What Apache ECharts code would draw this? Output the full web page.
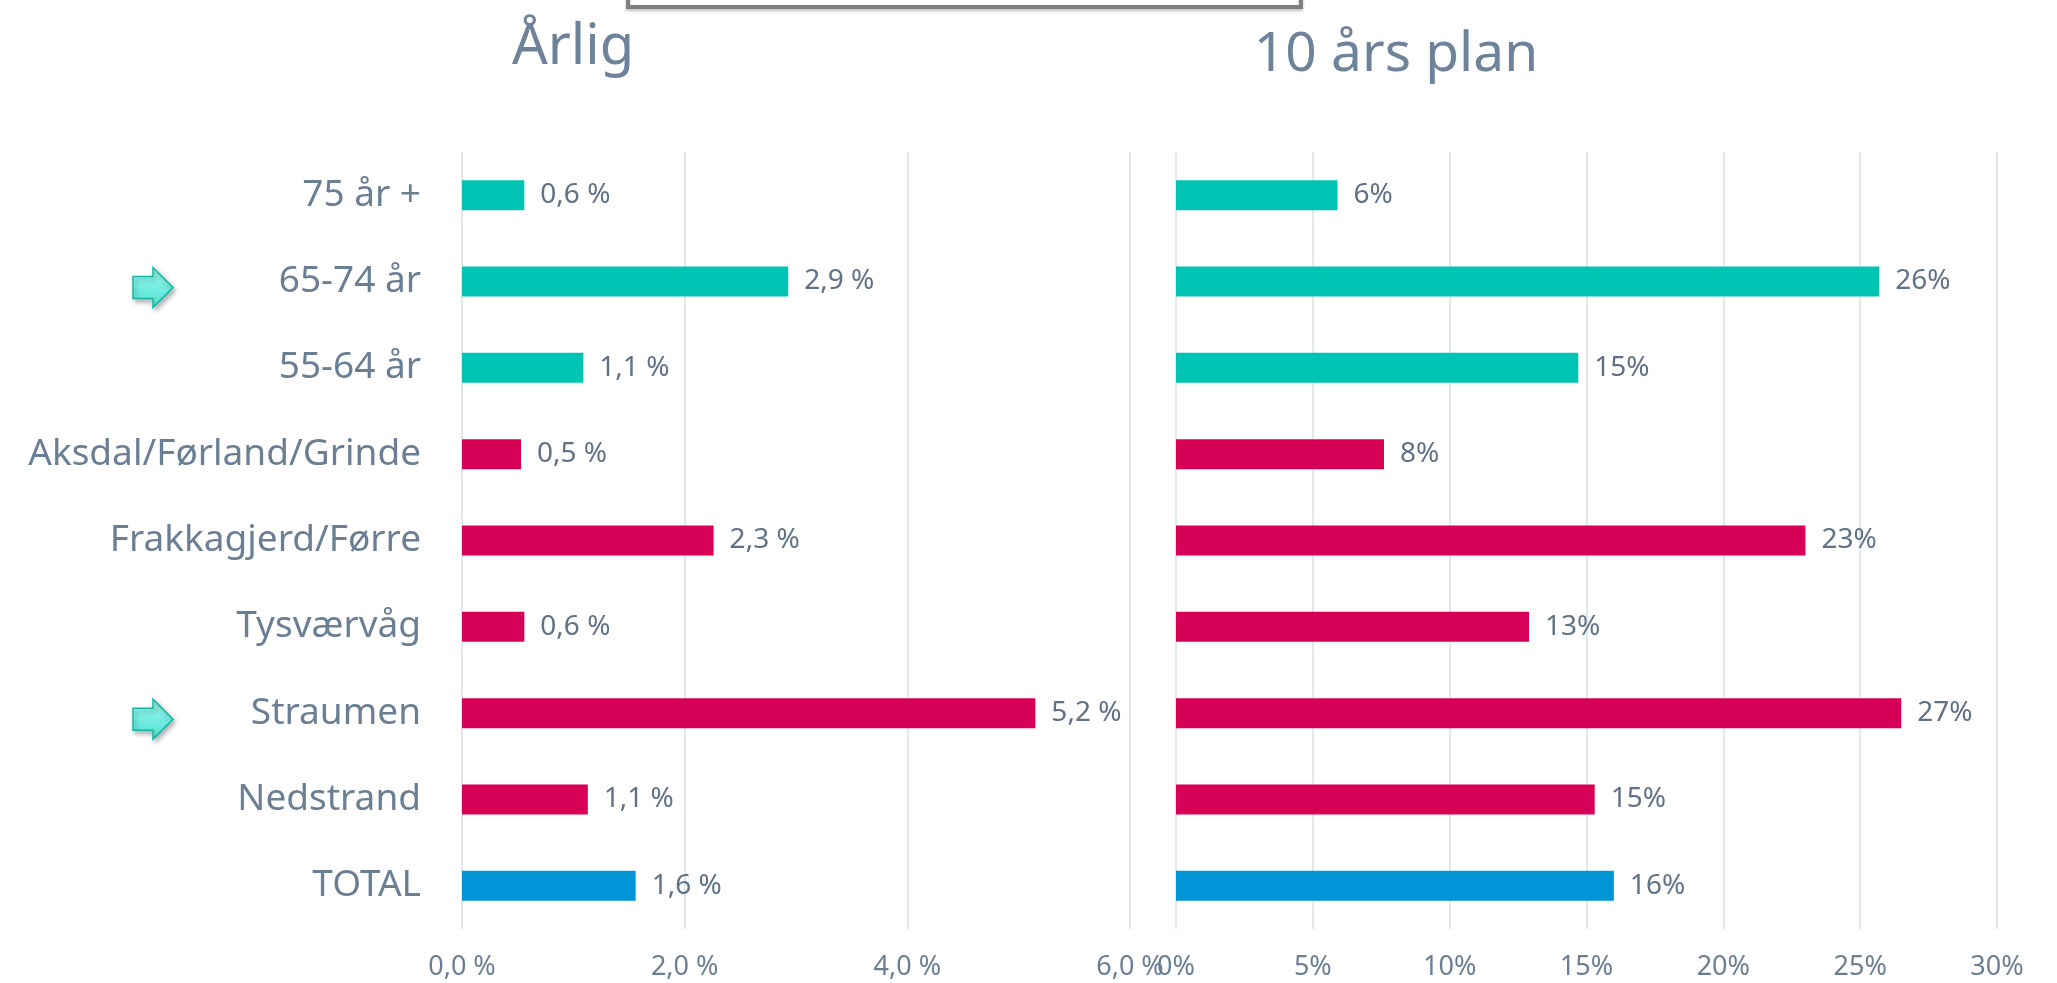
<!DOCTYPE html>
<html>
<head>
<meta charset="utf-8">
<script src="https://cdn.jsdelivr.net/npm/echarts/dist/echarts.min.js"></script>
<style>
    html, body { margin: 0; padding: 0; background: #fff; }
    #main { width: 2057px; height: 983px; }
</style>
</head>
<body>
<div id="main"></div>
<script>
// kategorier, fra topp til bunn
var categories = ['75 år +', '65-74 år', '55-64 år', 'Aksdal/Førland/Grinde', 'Frakkagjerd/Førre', 'Tysværvåg', 'Straumen', 'Nedstrand', 'TOTAL'];
var groups = ['alder', 'alder', 'alder', 'sted', 'sted', 'sted', 'sted', 'sted', 'total'];
// årlig vekst (%)
var arligValues = [0.56, 2.93, 1.09, 0.53, 2.26, 0.56, 5.15, 1.13, 1.56];
// 10 års plan (%)
var planValues = [5.9, 25.7, 14.7, 7.6, 23.0, 12.9, 26.5, 15.3, 16.0];
// akseverdier
var arligTicks = [0, 2, 4, 6];
var planTicks = [0, 5, 10, 15, 20, 25, 30];
// kategorier med pil
var marked = ['65-74 år', 'Straumen'];

var colorMap = { alder: '#00c4b3', sted: '#d70057', total: '#0095d5' };
var textColor = '#6b7f94';
var font = '"Noto Sans", "Open Sans", sans-serif';

var chart = echarts.init(document.getElementById('main'));

function barColor(p) {
    return colorMap[groups[p.dataIndex]];
}

function valueAxis(ticks, idx, fmt) {
    return {
        type: 'value',
        gridIndex: idx,
        min: ticks[0],
        max: ticks[ticks.length - 1],
        interval: ticks[1] - ticks[0],
        axisLine: { show: false },
        axisTick: { show: false },
        splitLine: { lineStyle: { color: '#d9dfe6', width: 1.5 } },
        axisLabel: { color: textColor, fontSize: 27, fontFamily: font, margin: 25, formatter: fmt }
    };
}

var option = {
    animation: false,
    grid: [
        { left: 462, right: 927, top: 152, bottom: 54 },
        { left: 1176, right: 60, top: 152, bottom: 54 }
    ],
    xAxis: [
        valueAxis(arligTicks, 0, function (v) { return v.toFixed(1).replace('.', ',') + ' %'; }),
        valueAxis(planTicks, 1, function (v) { return v + '%'; })
    ],
    yAxis: [
        {
            type: 'category', gridIndex: 0, data: categories, inverse: true,
            axisLine: { show: false }, axisTick: { show: false },
            axisLabel: { color: textColor, fontSize: 37, fontFamily: font, margin: 41 }
        },
        {
            type: 'category', gridIndex: 1, data: categories, inverse: true,
            axisLine: { show: false }, axisTick: { show: false },
            axisLabel: { show: false }
        }
    ],
    series: [
        {
            name: 'Årlig', type: 'bar', xAxisIndex: 0, yAxisIndex: 0,
            data: arligValues, barWidth: 30,
            itemStyle: { color: barColor },
            label: {
                show: true, position: 'right', distance: 16,
                color: '#5f7287', fontSize: 28, fontFamily: font,
                formatter: function (p) { return p.value.toFixed(1).replace('.', ',') + ' %'; }
            }
        },
        {
            name: '10 års plan', type: 'bar', xAxisIndex: 1, yAxisIndex: 1,
            data: planValues, barWidth: 30,
            itemStyle: { color: barColor },
            label: {
                show: true, position: 'right', distance: 16,
                color: '#5f7287', fontSize: 28, fontFamily: font,
                formatter: function (p) { return Math.round(p.value) + '%'; }
            }
        }
    ]
};

chart.setOption(option);

// titler, ramme og piler
var graphics = [
    {
        type: 'rect', shape: { x: 628, y: -30, width: 673, height: 37 },
        style: { fill: 'none', stroke: '#7f7f7f', lineWidth: 4, shadowBlur: 3, shadowOffsetY: 2, shadowColor: 'rgba(0,0,0,0.25)' }
    },
    {
        type: 'text', x: 573, y: 48,
        style: { text: 'Årlig', fill: '#6e8399', font: '56px ' + font, textAlign: 'center', textVerticalAlign: 'middle' }
    },
    {
        type: 'text', x: 1396, y: 55,
        style: { text: '10 års plan', fill: '#6e8399', font: '55px ' + font, textAlign: 'center', textVerticalAlign: 'middle' }
    }
];

marked.forEach(function (name) {
    var y = chart.convertToPixel({ yAxisIndex: 0 }, name) + 6;
    graphics.push({
        type: 'polygon',
        x: 153, y: y,
        shape: { points: [[-20, -11], [0, -11], [0, -20], [20, 0], [0, 20], [0, 11], [-20, 11]] },
        style: {
            fill: new echarts.graphic.LinearGradient(0, 0, 0, 1, [
                { offset: 0, color: '#9af8ee' },
                { offset: 1, color: '#4fe3d3' }
            ]),
            stroke: '#17b6a6', lineWidth: 1.5,
            shadowBlur: 5, shadowOffsetX: 2, shadowOffsetY: 3, shadowColor: 'rgba(0,0,0,0.3)'
        }
    });
});

chart.setOption({ graphic: graphics });
</script>
</body>
</html>
